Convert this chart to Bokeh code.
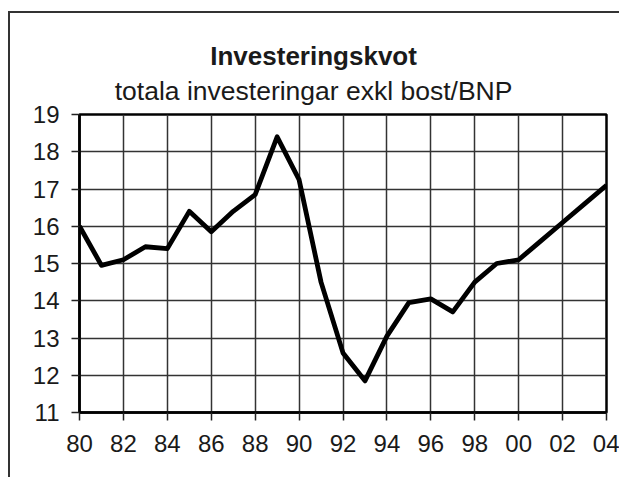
from bokeh.plotting import figure
from bokeh.models import Range1d, FixedTicker, Label
from bokeh.embed import file_html
from bokeh.resources import INLINE

# ---- data ----
years = [1980, 1981, 1982, 1983, 1984, 1985, 1986, 1987, 1988, 1989, 1990,
         1991, 1992, 1993, 1994, 1995, 1996, 1997, 1998, 1999, 2000,
         2001, 2002, 2003, 2004]
kvot = [16.0, 14.95, 15.1, 15.45, 15.4, 16.4, 15.85, 16.4, 16.85, 18.4, 17.25,
        14.5, 12.6, 11.85, 13.05, 13.95, 14.05, 13.7, 14.5, 15.0, 15.1,
        15.6, 16.1, 16.6, 17.1]
x_ticks = [1980, 1982, 1984, 1986, 1988, 1990, 1992, 1994, 1996, 1998, 2000, 2002, 2004]
x_tick_labels = ["80", "82", "84", "86", "88", "90", "92", "94", "96", "98", "00", "02", "04"]
y_ticks = [11, 12, 13, 14, 15, 16, 17, 18, 19]
title_text = "Investeringskvot"
subtitle_text = "totala investeringar exkl bost/BNP"

FONT = "Liberation Sans"

p = figure(width=611, height=466, output_backend="svg", toolbar_location=None,
           x_range=Range1d(1980, 2004), y_range=Range1d(11, 19),
           min_border_left=69, min_border_right=15, min_border_top=101,
           min_border_bottom=67)
p.background_fill_color = "white"
p.border_fill_color = "white"
# outer frame of the whole figure (cropped at right and bottom in the reference)
p.styles = {"margin-left": "8px", "margin-top": "11px",
            "border-left": "2px solid #333333", "border-top": "2px solid #333333"}

p.line(years, kvot, line_color="black", line_width=4.8, line_join="round")

for ax in (p.xaxis[0], p.yaxis[0]):
    ax.axis_line_color = "black"
    ax.axis_line_width = 2.5
    ax.major_tick_line_color = "#222222"
    ax.major_tick_line_width = 1.5
    ax.major_tick_out = 8
    ax.major_tick_in = 0
    ax.minor_tick_out = 0
    ax.minor_tick_in = 0
    ax.major_label_text_font = FONT
    ax.major_label_text_font_size = "24px"
    ax.major_label_text_color = "#1a1a1a"

p.xaxis.ticker = FixedTicker(ticks=x_ticks)
p.xaxis.major_label_overrides = {t: l for t, l in zip(x_ticks, x_tick_labels)}
p.xaxis.major_label_standoff = 14
p.yaxis.ticker = FixedTicker(ticks=y_ticks)
p.yaxis.major_label_standoff = 12

p.xgrid.ticker = FixedTicker(ticks=x_ticks)
p.ygrid.ticker = FixedTicker(ticks=y_ticks)
for g in (p.xgrid[0], p.ygrid[0]):
    g.grid_line_color = "#333333"
    g.grid_line_width = 1.5
    g.grid_line_alpha = 1.0

p.outline_line_color = "black"
p.outline_line_width = 2.5
p.outline_line_alpha = 1.0

p.add_layout(Label(x=1990.66, y=20.56, text=title_text, text_align="center",
                   text_baseline="alphabetic", text_font=FONT,
                   text_font_style="bold", text_font_size="26px",
                   text_color="#1a1a1a"), "above")
p.add_layout(Label(x=1990.66, y=19.62, text=subtitle_text, text_align="center",
                   text_baseline="alphabetic", text_font=FONT,
                   text_font_size="26.5px", text_color="#1a1a1a"), "above")

open("out.html", "w").write(file_html(p, INLINE))
